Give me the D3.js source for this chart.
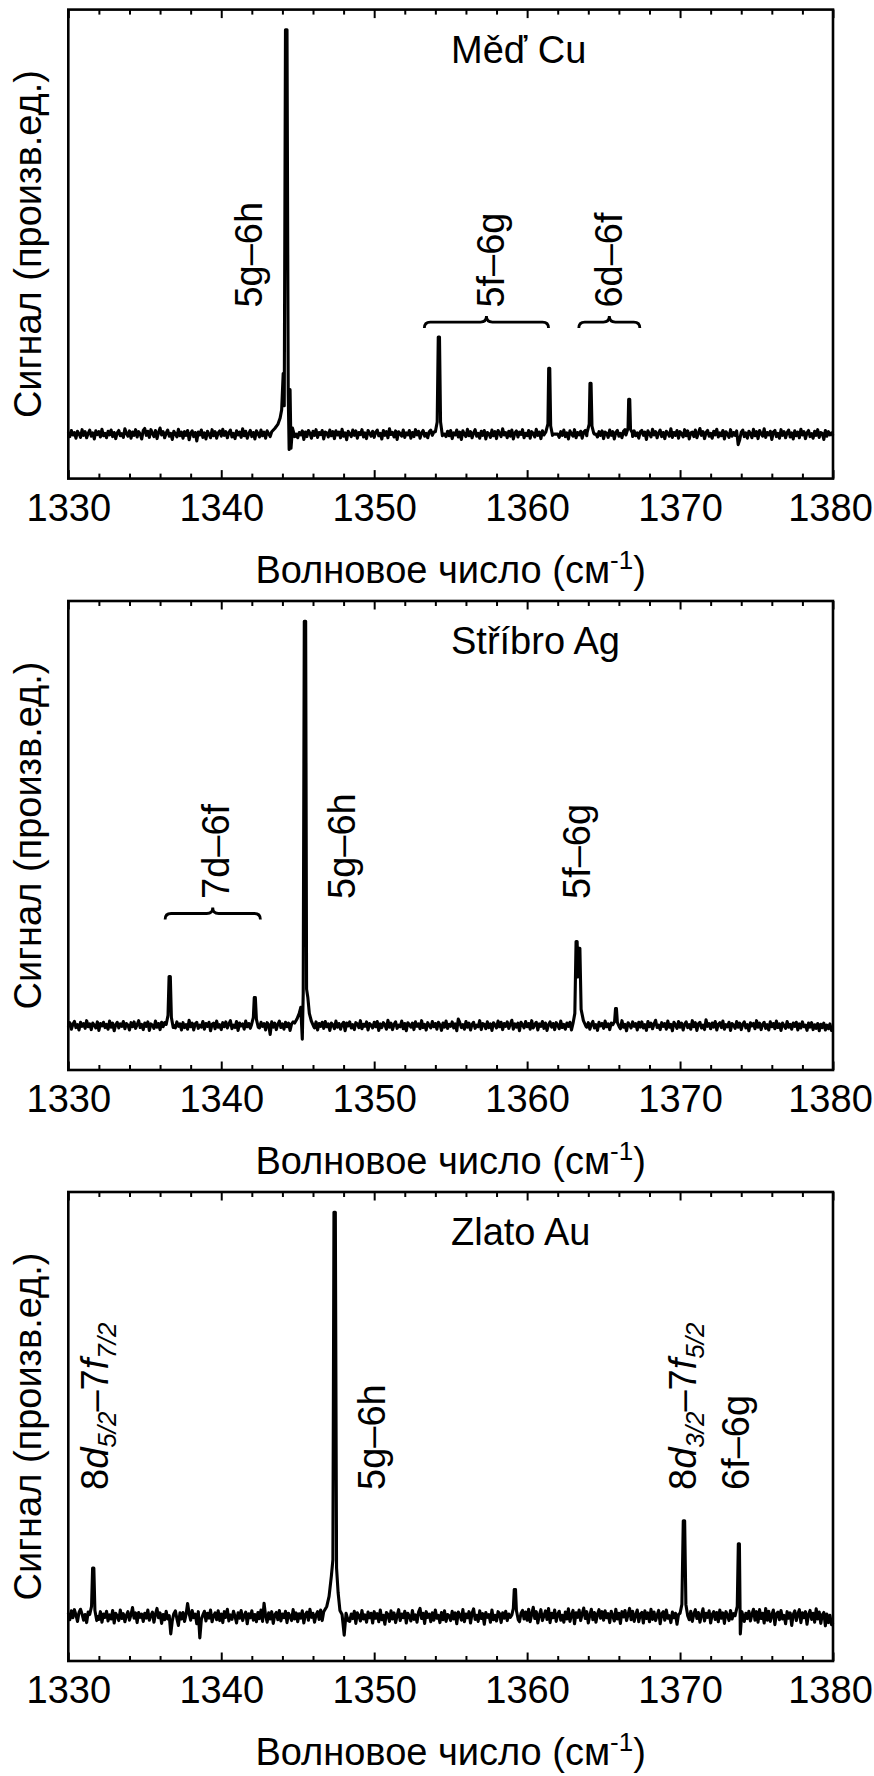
<!DOCTYPE html>
<html><head><meta charset="utf-8">
<script src="https://cdn.jsdelivr.net/npm/d3@7"></script>
<style>
body{margin:0;background:#fff}
svg{display:block}
text{font-family:"Liberation Sans",Arial,Helvetica,sans-serif;fill:#000}
</style>
</head><body>
<svg id="chart" width="874" height="1776"></svg>
<script>
// ---------- data ----------
const xDomain = [1330, 1380];
const majorTicks = [1330, 1340, 1350, 1360, 1370, 1380];
const minorTicks = [1332,1334,1336,1338,1342,1344,1346,1348,1352,1354,1356,1358,1362,1364,1366,1368,1372,1374,1376,1378];
const yDomain = [-11, 105];
const panelTitles = ["Měď Cu", "Stříbro Ag", "Zlato Au"];
const yAxisTitle = "Сигнал (произв.ед.)";
const xAxisTitle = "Волновое число (см";
const xAxisSup = "-1";
const noiseStart = 1330, noiseStep = 0.1;

// baseline noise, one value every 0.1 cm-1 (0 where a peak replaces it)
const cuNoise = [
 0.5,-0.6,0.9,-0.2,0.4,-1.0,0.7,0.1,-0.8,1.1,-0.3,0.6,-0.9,0.2,1.0,-0.5,0.3,-1.2,0.8,-0.1,0.6,-0.7,1.2,-0.4,0.2,
 -0.9,0.7,-0.2,1.0,-0.6,0.4,-1.1,0.3,0.9,-0.4,0.1,-0.8,1.3,0.2,-0.5,0.8,-1.0,0.5,-0.3,1.1,-0.7,0.6,0.0,-1.2,0.9,
 1.4,-0.3,0.7,-0.8,1.1,0.2,-0.6,0.9,-1.1,0.4,1.5,-0.2,0.6,-0.9,0.3,1.0,-0.5,0.2,-1.3,0.7,0.1,-0.7,1.2,-0.4,0.5,
 -1.0,0.6,-0.3,0.9,-1.4,0.2,0.8,-0.6,0.4,-1.7,0.5,-0.2,1.0,-0.8,0.3,-1.2,0.7,0.0,-0.9,1.1,-0.4,0.6,-1.0,0.3,0.8,
 -0.5,1.2,-0.3,0.6,-0.9,0.4,1.0,-0.7,0.2,-1.1,0.8,-0.2,0.5,-0.8,1.3,-0.4,0.7,-1.0,0.1,0.9,-0.6,0.4,-1.2,0.8,0.2,
 -0.7,1.0,-0.4,0.5,-1.0,0.8,0.1,-0.6,1.2,-0.3,0.7,0.3,1.1,0.6,1.4,0,0,0,0,0,0,0,0,0,0,
 -0.9,0.4,-0.2,0.8,-1.3,0.5,-0.6,0.9,0.2,-1.0,0.7,-0.3,1.1,-0.8,0.4,-0.1,0.9,-1.2,0.5,0.3,-0.7,1.0,-0.4,0.6,-1.1,
 0.8,-0.2,0.5,-0.9,1.2,-0.5,0.3,-1.4,0.7,0.1,-0.6,1.0,-0.3,0.8,-1.0,0.4,-0.1,1.1,-0.7,0.3,-1.1,0.9,0.2,-0.5,0.7,
 -0.8,0.5,1.0,-0.4,0.2,-1.2,0.9,-0.3,0.6,-0.9,1.3,-0.1,0.4,-0.7,0.8,-1.3,0.6,0.1,-0.5,1.0,-0.8,0.3,-0.2,0.9,-1.0,
 0.4,-0.6,1.1,-0.2,0.7,-1.0,0.3,0.9,-0.5,0.2,-0.9,0.6,1.0,-0.3,0.5,0.8,1.2,0,0,0,0,0,-0.6,0.7,-0.4,
 0.9,-1.1,0.3,-0.2,1.0,-0.7,0.5,-1.3,0.8,0.0,-0.6,1.2,-0.4,0.6,-0.9,0.3,1.1,-0.5,0.2,-1.0,0.7,-0.3,0.9,-1.2,0.4,
 0.1,-0.8,1.0,-0.4,0.6,-1.1,0.9,0.2,-0.6,1.3,-0.2,0.4,-0.9,0.7,-0.5,1.0,-1.2,0.3,0.8,-0.7,0.5,-0.1,1.1,-0.9,0.2,
 -0.4,0.9,-1.0,0.6,0.2,-0.7,1.2,-0.3,0.5,-1.1,0.8,-0.2,0.4,0.9,0.3,0,0,0,0,0,0,-0.8,0.6,-0.3,1.0,
 -0.6,0.3,-1.2,0.8,0.1,-0.5,1.1,-0.9,0.4,-0.2,0.7,-1.0,0.5,0.9,-0.4,0.3,0,0,0,0,0,-0.7,0.6,-0.3,0.8,
 -1.1,0.5,0.2,-0.8,1.0,-0.3,0.6,-1.2,0.4,0.9,-0.5,0.2,-0.9,0.7,1.1,0,0,0,0,-0.6,0.8,-0.4,0.3,-1.0,0.6,
 0.9,-0.3,0.5,-1.3,0.8,0.1,-0.7,1.2,-0.2,0.6,-0.9,0.3,1.0,-0.6,0.4,-1.1,0.7,0.2,-0.5,1.3,-0.8,0.4,-0.3,0.9,-1.0,
 0.6,0.1,-0.7,1.1,-0.4,0.8,-1.2,0.3,0.5,-0.6,1.0,-0.9,0.2,1.4,-0.3,0.6,-1.1,0.4,0.9,-0.5,0.2,-1.0,0.7,-0.2,1.2,
 -0.7,0.3,-0.4,0.9,-1.2,0.6,0.0,-0.8,1.1,-0.5,0.4,-0.3,0.8,-2.6,-1.4,0.5,1.0,-0.6,0.3,-1.0,0.7,0.2,-0.9,1.2,-0.4,
 0.6,-1.1,0.9,0.1,-0.5,1.3,-0.8,0.4,-0.2,0.7,-1.3,0.5,0.9,-0.6,0.2,-1.0,1.1,-0.3,0.6,-0.9,0.4,1.0,-0.7,0.3,-1.2,
 0.8,-0.4,0.5,-0.9,1.2,-0.2,0.6,-1.1,0.3,0.9,-0.6,0.1,-1.0,0.7,-0.3,1.1,-0.8,0.4,0.2,-1.3,0.9,-0.5,0.6,-0.2,0.3,
 -0.4
];
const agNoise = [
 -0.4,0.7,-0.9,0.3,1.0,-0.5,0.2,-1.1,0.8,-0.2,0.5,-0.7,1.2,-0.3,0.4,-1.0,0.6,0.1,-0.6,0.9,-1.2,0.5,-0.1,0.8,-0.5,
 0.3,-0.9,1.1,-0.4,0.6,-1.3,0.2,0.8,-0.6,0.4,-0.2,1.0,-0.8,0.5,0.1,-1.1,0.7,-0.3,0.9,-0.7,0.2,1.2,-0.5,0.3,-1.0,
 0.6,-0.2,0.9,-1.2,0.4,0.1,-0.7,1.1,-0.4,0.5,-1.0,0.8,-0.3,0.7,0,0,0,0,0,0,-0.6,0.9,-0.2,0.4,-1.1,
 0.7,-0.5,0.2,-0.9,1.3,-0.3,0.6,-1.1,0.4,0.8,-0.7,0.1,-0.4,1.0,-0.9,0.5,-0.2,0.8,-1.3,0.3,0.6,-0.8,1.1,-0.4,0.2,
 -1.0,0.7,-0.3,0.9,-0.6,0.4,1.2,-0.8,0.1,-0.5,1.0,-1.2,0.6,-0.1,0.4,-0.9,1.1,-0.3,0.5,-0.7,0,0,0,0,0,
 -0.6,0.8,-0.2,0.5,-1.1,0.7,0.2,-2.2,0.9,-0.4,0.6,-1.0,0.3,1.1,-0.5,0.4,-0.9,0.8,-0.3,0.6,-1.2,0.4,0.9,0,0,
 0,0,0,0,0,0,0,0,0,0,0,-0.6,0.9,-1.1,0.5,-0.2,0.8,-0.7,1.0,-0.3,0.4,-1.2,0.6,0.2,-0.8,
 1.1,-0.4,0.5,-0.9,0.3,0.8,-1.3,0.6,-0.1,0.9,-0.6,0.2,-1.0,0.7,0.4,-0.5,1.2,-0.8,0.3,-0.2,0.9,-1.1,0.5,0.1,-0.6,
 0.8,-0.3,1.0,-1.2,0.4,-0.5,0.7,0.2,-0.9,1.3,-0.4,0.6,-1.0,0.3,0.9,-0.7,0.1,-0.3,1.1,-0.8,0.5,-1.3,0.7,0.2,-0.4,
 0.6,-1.0,0.9,-0.2,0.4,-0.8,1.2,-0.5,0.3,-1.1,0.7,0.0,-0.6,1.0,-0.3,0.5,-0.9,0.8,0.2,-1.2,0.6,-0.4,1.1,-0.7,0.3,
 -0.2,0.9,-0.6,0.4,-1.3,1.6,0.7,-0.5,0.2,-0.9,1.0,-0.4,0.6,-1.1,0.3,0.8,-0.7,0.1,-0.3,1.2,-1.0,0.5,0.3,-0.8,0.9,
 -0.5,0.4,-1.2,0.7,0.1,-0.6,1.1,-0.3,0.8,-1.0,0.5,-0.2,0.9,-0.7,0.3,1.3,-0.9,0.4,-0.4,0.6,-1.3,0.8,0.2,-0.6,1.0,
 -0.3,0.5,-0.9,1.2,-0.6,0.3,0.8,-1.1,0.4,-0.2,1.0,-0.7,0.6,-1.2,0.2,0.9,-0.4,0.5,-1.0,0.7,0.1,-0.8,1.1,-0.5,0.3,
 -0.9,0.6,-0.2,0.8,-1.1,0,0,0,0,0,0,0,0,0,-0.4,0.7,-0.9,0.3,1.0,-0.6,0.2,-1.2,0.8,-0.1,0.5,
 -0.7,1.1,-0.3,0.4,-1.0,0.6,0,0,0,0,0,-0.8,1.2,-0.4,0.3,-1.3,0.7,0.1,-0.6,0.9,-0.2,0.5,-1.1,0.8,-0.4,
 0.9,-0.6,0.2,-1.2,1.0,-0.3,0.6,-0.8,0.4,1.3,-0.5,0.1,-1.0,0.7,-0.2,0.5,-0.9,1.1,-0.4,0.3,-1.3,0.8,0.2,-0.7,1.0,
 -0.4,0.6,-1.1,0.3,0.9,-0.5,0.2,-0.9,1.2,-0.3,0.7,-1.2,0.4,0.8,-0.6,0.1,-1.0,1.4,-0.2,0.5,-0.8,0.6,-0.4,1.0,-1.1,
 0.3,0.7,-0.5,1.1,-0.9,0.2,-0.3,0.8,-1.2,0.5,0.1,-0.7,1.0,-0.4,0.6,-1.0,0.3,0.9,-0.6,0.2,-1.3,0.7,-0.1,0.5,-0.8,
 1.2,-0.4,0.6,-1.0,0.3,0.8,-0.7,0.2,-1.1,0.9,-0.3,0.5,-0.8,1.1,-0.5,0.4,-1.2,0.6,0.0,-0.7,1.0,-0.4,0.3,-0.9,0.6,
 -0.2,0.8,-1.1,0.4,-0.6,0.9,-0.3,0.1,-1.2,0.6,-0.4,0.7,-1.0,0.2,-0.7,0.5,-1.3,0.3,-0.5,0.6,-1.1,0.1,-0.8,0.4,-1.2,
 -0.9
];
const auNoise = [
 0.9,-0.8,1.4,-0.3,1.7,0.4,-1.2,1.0,1.8,0.6,-0.9,0.5,-1.5,1.1,0,0,0,0,0,0,-0.7,1.2,-1.4,0.6,-0.2,
 1.3,-1.1,0.4,-0.6,1.5,-1.6,0.8,0.2,-1.0,1.6,-0.5,0.7,-1.3,0.3,1.2,-0.9,0.5,2.2,-0.4,0.9,-1.5,1.0,-0.2,0.6,-1.2,
 0.8,-0.4,1.6,-0.9,0.3,1.1,-1.4,0.6,2.0,-0.3,0.9,-1.7,0.5,-0.8,1.3,-0.6,0.2,-4.3,-1.0,0.7,1.4,-0.5,-2.2,0.9,-0.6,
 1.0,-1.2,0.5,3.2,0.8,-0.9,1.5,-0.3,0.6,-1.8,1.2,-5.3,-0.7,0.4,1.3,-1.1,0.8,-0.4,1.6,-1.3,0.2,0.9,-0.8,1.4,-1.0,
 0.6,-1.5,1.2,-0.2,1.8,-1.1,0.4,-0.7,1.3,0.1,-1.6,0.9,-0.4,1.5,-1.0,0.3,1.1,-1.8,0.7,-0.3,1.4,-0.9,0.5,-1.3,1.0,
 -0.5,1.6,-1.2,3.3,0.2,-1.4,0.9,-0.6,1.2,-1.7,0.4,1.0,-0.8,1.5,-1.1,0.6,-0.3,1.3,-1.5,0.8,0.1,-1.0,1.7,-0.6,0.9,
 -1.3,0.7,-0.4,1.4,-1.6,0.5,1.1,-0.9,1.8,-0.2,0.8,-1.4,0.4,1.2,-0.7,1.6,-1.0,0,0,0,0,0,0,0,0,
 0,0,0,0,0,0,0,0,0,-1.2,0.6,-0.5,1.3,-1.7,0.9,0.2,-1.1,1.5,-0.6,0.4,-1.4,1.1,-0.3,0.8,-1.6,
 1.2,-0.4,0.7,-1.3,1.6,-0.8,0.3,-1.9,1.0,0.5,-1.2,1.4,-0.6,0.9,-1.5,0.2,1.7,-1.0,0.6,-0.3,1.3,-1.6,0.8,0.1,-1.1,
 1.5,-0.7,0.4,-1.4,1.1,2.0,-0.5,0.8,-1.7,1.2,-0.2,0.6,-1.3,0.9,-0.9,1.6,-0.4,0.3,-1.5,1.0,-0.8,1.4,-1.2,0.5,0.2,
 -1.0,1.3,-0.6,0.9,-1.8,1.1,0.4,-0.9,1.7,-1.3,0.6,-0.3,1.2,-1.6,0.8,1.9,-0.7,0.3,-1.2,1.4,-0.5,0.7,-1.9,1.0,-0.2,
 0.5,-1.4,1.6,-0.8,0.3,-1.1,1.2,0.7,-1.5,0.9,-0.4,1.3,-1.0,0.6,-0.2,0,0,0,0,0,-1.3,0.8,1.5,-0.6,1.1,
 -0.9,1.8,-1.3,0.6,2.3,-0.5,1.2,-1.6,0.4,1.7,-1.0,0.2,1.4,-0.7,2.0,-1.5,0.8,-0.3,1.6,-1.2,0.5,1.3,-0.9,0.3,-1.4,
 1.1,-0.6,1.9,-1.2,0.4,1.5,-1.8,0.9,-0.2,1.6,-1.0,0.7,2.1,-0.5,1.2,-1.6,0.3,1.8,-0.8,1.0,-1.4,0.6,1.7,-0.4,1.2,
 -0.9,1.4,-0.3,0.7,-1.5,1.3,0.2,-1.1,1.8,-0.6,0.8,-1.7,1.2,-0.1,1.5,-1.0,0.5,2.0,-0.8,1.3,-1.2,0.4,1.6,-1.3,0.6,
 1.0,-1.6,1.4,-0.5,0.9,-1.3,1.8,-0.7,1.1,-1.0,0.3,1.5,-1.8,0.7,1.2,-0.9,1.6,-0.4,0.2,-1.5,1.1,-0.3,0.8,-1.9,0.5,
 0,0,0,0,0,0,-0.8,1.3,-1.2,0.6,1.7,-0.5,1.0,-1.4,0.4,1.9,-1.1,0.8,-0.2,1.4,-1.6,0.5,1.2,-0.7,1.0,
 -1.3,1.6,-0.4,0.9,-1.7,1.2,0.3,-1.0,1.5,-0.6,0.7,0.2,1.1,0,0,0,0,-1.2,0.8,-0.5,1.3,-1.1,0.6,1.8,-0.9,
 1.2,-1.4,1.7,-0.5,0.8,-1.6,2.0,-0.9,1.3,-1.2,0.4,1.6,-2.0,0.7,1.1,-0.8,1.5,-0.6,0.3,-1.8,1.2,-0.4,0.9,-2.2,0.5,
 1.4,-1.0,0.6,1.7,-1.5,0.9,-0.3,1.2,-1.9,0.5,1.5,-0.7,0.8,-1.4,1.9,-0.6,1.1,-1.7,0.4,1.0,-2.3,0.6,-1.5,0.3,-2.0,
 -1.4
];

// peak shapes: [wavenumber, signal]
const cuPeaks = [
 [[1343.3,0.6],[1343.5,1.4],[1343.7,2.4],[1343.85,4],[1343.95,6],[1344.05,15],[1344.12,7],[1344.2,100],[1344.3,100],[1344.38,10],[1344.44,-3.8],[1344.5,11],[1344.56,-3.5],[1344.66,1.5],[1344.8,-0.6]],
 [[1354.0,0.6],[1354.12,3],[1354.19,24],[1354.27,24],[1354.34,3],[1354.46,-0.4]],
 [[1361.22,0.5],[1361.36,2.5],[1361.41,16.3],[1361.48,16.3],[1361.54,2],[1361.66,-0.3]],
 [[1363.92,0.4],[1364.06,2.5],[1364.11,12.6],[1364.18,12.6],[1364.24,2],[1364.36,0.2]],
 [[1366.46,-0.2],[1366.6,1.5],[1366.64,8.6],[1366.71,8.6],[1366.76,1.2],[1366.88,0.3]]
];
const agPeaks = [
 [[1336.4,0.3],[1336.52,2.5],[1336.59,12.1],[1336.67,12.1],[1336.74,2],[1336.86,-0.5]],
 [[1341.98,0.2],[1342.1,2],[1342.16,6.9],[1342.23,6.9],[1342.3,1.5],[1342.42,-0.4]],
 [[1344.8,0.6],[1344.95,1.6],[1345.1,3],[1345.2,4.5],[1345.3,-3.4],[1345.36,8],[1345.43,100],[1345.52,100],[1345.58,9],[1345.66,7],[1345.76,3],[1345.9,1],[1346.05,-0.3]],
 [[1363.0,0.5],[1363.12,3],[1363.2,20.8],[1363.27,20.8],[1363.33,12],[1363.39,19.1],[1363.45,19.1],[1363.53,4],[1363.68,1.2],[1363.85,-0.2]],
 [[1365.6,0.2],[1365.72,1],[1365.78,4.2],[1365.84,4.2],[1365.9,0.8],[1366.02,-0.3]]
];
const auPeaks = [
 [[1331.4,0.5],[1331.52,2.5],[1331.59,12],[1331.67,12],[1331.74,1.5],[1331.86,-1.0]],
 [[1346.7,1.2],[1346.9,2.5],[1347.05,5],[1347.2,10],[1347.3,14],[1347.37,100],[1347.46,100],[1347.54,12],[1347.64,6],[1347.76,1.5],[1347.9,0.5],[1348.04,-4.6],[1348.16,0.8],[1348.3,-1.0]],
 [[1359.0,0.4],[1359.1,2],[1359.16,6.7],[1359.24,6.7],[1359.3,1.5],[1359.42,-0.8]],
 [[1370.0,0.8],[1370.12,3],[1370.21,23.7],[1370.3,23.7],[1370.38,3],[1370.5,0.2]],
 [[1373.62,0.6],[1373.74,2.5],[1373.81,18],[1373.88,18],[1373.94,-4.3],[1374.04,1.2],[1374.16,-0.5]]
];

const cuLabels = [
 {x:1342.66, parts:[["5g–6h",""]]},
 {x:1358.48, parts:[["5f–6g",""]]},
 {x:1366.19, parts:[["6d–6f",""]]}
];
const agLabels = [
 {x:1340.5, parts:[["7d–6f",""]]},
 {x:1348.74, parts:[["5g–6h",""]]},
 {x:1364.1, parts:[["5f–6g",""]]}
];
const auLabels = [
 {x:1332.6, parts:[["8",""],["d","i"],["5/2","s"],["–",""],["7",""],["f","i"],["7/2","s"]]},
 {x:1350.73, parts:[["5g–6h",""]]},
 {x:1371.06, parts:[["8",""],["d","i"],["3/2","s"],["–",""],["7",""],["f","i"],["5/2","s"]]},
 {x:1374.54, parts:[["6f–6g",""]]}
];
const cuBraces = [[1353.28,1361.4],[1363.38,1367.37]];
const agBraces = [[1336.33,1342.56]];
const auBraces = [];

const panels = [
 {title:panelTitles[0], noise:cuNoise, peaks:cuPeaks, labels:cuLabels, braces:cuBraces},
 {title:panelTitles[1], noise:agNoise, peaks:agPeaks, labels:agLabels, braces:agBraces},
 {title:panelTitles[2], noise:auNoise, peaks:auPeaks, labels:auLabels, braces:auBraces}
];

// ---------- layout ----------
const L = 68.3, R = 833, H = 469;
const tops = [9.6, 601, 1192];
const FS = 38;

const svg = d3.select("#chart");
const x = d3.scaleLinear().domain(xDomain).range([L, R]);

function buildSeries(noise, peaks){
  const pts = [];
  noise.forEach((v,i)=>{
    const xv = +(noiseStart + i*noiseStep).toFixed(2);
    const inside = peaks.some(g => xv >= g[0][0] && xv <= g[g.length-1][0]);
    if(!inside) pts.push([xv, v]);
  });
  peaks.forEach(g => g.forEach(p => pts.push(p)));
  pts.sort((a,b)=>a[0]-b[0]);
  return pts;
}

panels.forEach((p, k) => {
  const top = tops[k], bottom = top + H;
  const y = d3.scaleLinear().domain(yDomain).range([bottom, top]);
  const g = svg.append("g");

  // data line
  const series = buildSeries(p.noise, p.peaks);
  g.append("path")
    .datum(series)
    .attr("fill","none")
    .attr("stroke","#000")
    .attr("stroke-width",3.1)
    .attr("stroke-linejoin","round")
    .attr("d", d3.line().x(d=>x(d[0])).y(d=>y(d[1])));

  // axes
  const tickStyle = sel => { sel.select(".domain").remove(); sel.selectAll(".tick line").attr("stroke","#000").attr("stroke-width",2); };
  g.append("g").attr("transform",`translate(0,${bottom})`)
    .call(d3.axisBottom(x).tickValues(minorTicks).tickSize(-5).tickFormat(""))
    .call(tickStyle);
  g.append("g").attr("transform",`translate(0,${bottom})`)
    .call(d3.axisBottom(x).tickValues(majorTicks).tickSize(-8.5).tickPadding(15).tickFormat(d3.format("d")))
    .call(tickStyle)
    .call(s => s.selectAll(".tick text")
      .attr("font-size",FS).attr("font-family",'"Liberation Sans",Arial,sans-serif').attr("fill","#000")
      .attr("dx", d => d === xDomain[1] ? -3 : 0));
  g.append("g").attr("transform",`translate(0,${top})`)
    .call(d3.axisTop(x).tickValues(minorTicks).tickSize(-5).tickFormat(""))
    .call(tickStyle);
  g.append("g").attr("transform",`translate(0,${top})`)
    .call(d3.axisTop(x).tickValues(majorTicks).tickSize(-8.5).tickFormat(""))
    .call(tickStyle);

  // frame
  g.append("rect").attr("x",L).attr("y",top).attr("width",R-L).attr("height",H)
    .attr("fill","none").attr("stroke","#000").attr("stroke-width",2.6);

  // panel title
  g.append("text").attr("x",451).attr("y",top+53).attr("font-size",FS).text(p.title);

  // rotated peak labels
  p.labels.forEach(lb => {
    const t = g.append("text")
      .attr("transform",`translate(${x(lb.x)},${top+298}) rotate(-90)`)
      .attr("font-size",FS);
    lb.parts.forEach(([s,st]) => {
      const ts = t.append("tspan").text(s);
      if(st==="i") ts.attr("font-style","italic");
      if(st==="s") ts.attr("font-style","italic").attr("font-size",26).attr("baseline-shift","-8");
    });
  });

  // braces
  p.braces.forEach(([a,b]) => {
    const x1 = x(a), x2 = x(b), xm = (x1+x2)/2, yb = top+312.5, d = 6;
    g.append("path")
      .attr("d",`M${x1},${yb+d} Q${x1},${yb} ${x1+d},${yb} L${xm-d},${yb} Q${xm},${yb} ${xm},${yb-d} Q${xm},${yb} ${xm+d},${yb} L${x2-d},${yb} Q${x2},${yb} ${x2},${yb+d}`)
      .attr("fill","none").attr("stroke","#000").attr("stroke-width",2.8);
  });

  // y axis title
  g.append("text")
    .attr("transform",`translate(41,${(top+bottom)/2}) rotate(-90)`)
    .attr("text-anchor","middle").attr("font-size",FS).text(yAxisTitle);

  // x axis title
  const xt = g.append("text").attr("x",(L+R)/2).attr("y",bottom+104)
    .attr("text-anchor","middle").attr("font-size",FS);
  xt.append("tspan").text(xAxisTitle);
  xt.append("tspan").attr("font-size",26).attr("baseline-shift","14").text(xAxisSup);
  xt.append("tspan").text(")");
});
</script>
</body></html>
